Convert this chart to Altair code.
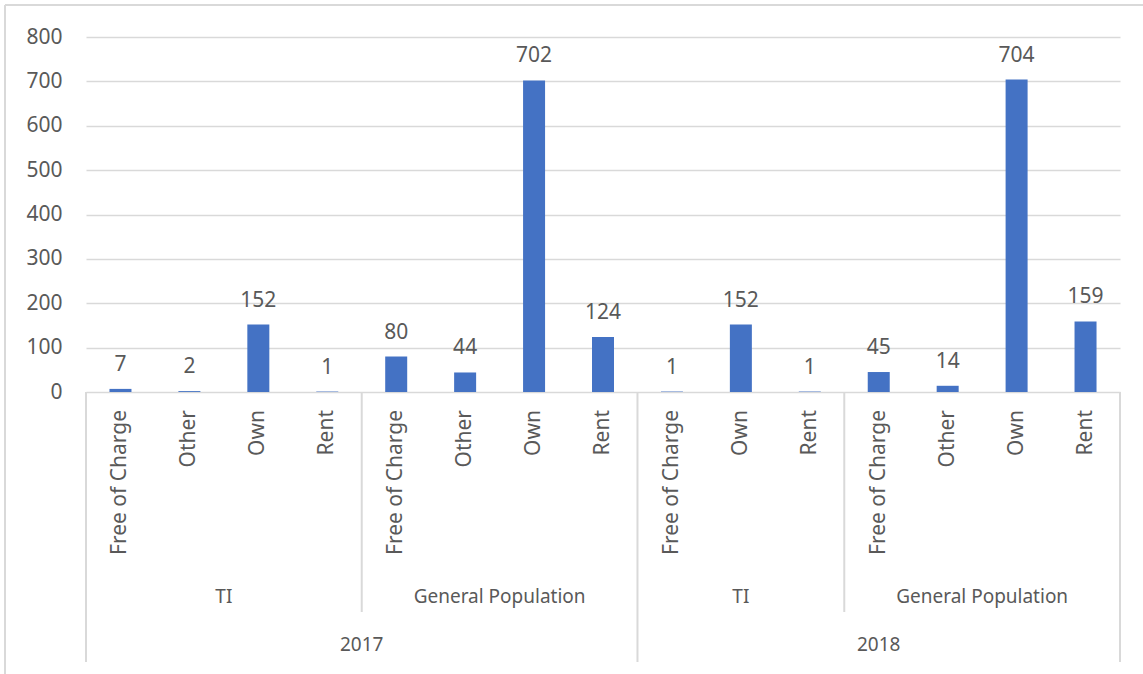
import altair as alt
import pandas as pd

# Category hierarchy (year > group > tenure) and counts
years = ["2017"] * 8 + ["2018"] * 7
groups = ["TI"] * 4 + ["General Population"] * 4 + ["TI"] * 3 + ["General Population"] * 4
tenure = [
    "Free of Charge", "Other", "Own", "Rent",
    "Free of Charge", "Other", "Own", "Rent",
    "Free of Charge", "Own", "Rent",
    "Free of Charge", "Other", "Own", "Rent",
]
counts = [7, 2, 152, 1, 80, 44, 702, 124, 1, 152, 1, 45, 14, 704, 159]
y_ticks = [0, 100, 200, 300, 400, 500, 600, 700, 800]

W, H = 1034, 355
GRID = "#d9d9d9"
TEXT = "#595959"
BAR = "#4472C4"
FONT = "Noto Sans"

df = pd.DataFrame({"year": years, "group": groups, "tenure": tenure, "count": counts})
df["slot"] = range(len(df))
df["mid"] = df["slot"] + 0.5

# spans of each group and each year along the category axis
grp = (df.groupby(["year", "group"], sort=False)["slot"]
         .agg(["min", "max"]).reset_index())
grp["start"] = grp["min"]
grp["end"] = grp["max"] + 1
grp["mid"] = (grp["start"] + grp["end"]) / 2

yr = df.groupby("year", sort=False)["slot"].agg(["min", "max"]).reset_index()
yr["start"] = yr["min"]
yr["end"] = yr["max"] + 1
yr["mid"] = (yr["start"] + yr["end"]) / 2

year_edges = sorted(set(yr["start"]).union(yr["end"]))
group_edges = sorted(set(grp["start"]).union(grp["end"]) - set(year_edges))

xscale = alt.Scale(domain=[0, len(df)], nice=False, zero=False, padding=0)
yscale = alt.Scale(domain=[0, 800], nice=False)


def xpos(field):
    return alt.X(field, type="quantitative", scale=xscale, axis=None)


base = alt.Chart(df)

bars = base.mark_bar(color=BAR, width=22).encode(
    x=xpos("mid"),
    y=alt.Y(
        "count:Q",
        scale=yscale,
        axis=alt.Axis(
            values=y_ticks, title=None, domain=False, ticks=False,
            grid=True, gridColor=GRID, gridWidth=1.5,
            labelColor=TEXT, labelFont=FONT, labelFontSize=21, labelPadding=24,
        ),
    ),
)

value_labels = base.mark_text(
    baseline="alphabetic", dy=-18, font=FONT, fontSize=21, color=TEXT
).encode(
    x=xpos("mid"),
    y=alt.Y("count:Q", scale=yscale),
    text=alt.Text("count:Q"),
)

tenure_labels = base.mark_text(
    angle=270, align="right", baseline="middle", font=FONT, fontSize=21, color=TEXT
).encode(
    x=xpos("mid"),
    y=alt.value(H + 18),
    text="tenure:N",
)

group_labels = alt.Chart(grp).mark_text(
    baseline="middle", font=FONT, fontSize=19, color=TEXT
).encode(
    x=xpos("mid"),
    y=alt.value(H + 205),
    text="group:N",
)

year_labels = alt.Chart(yr).mark_text(
    baseline="middle", font=FONT, fontSize=19, color=TEXT
).encode(
    x=xpos("mid"),
    y=alt.value(H + 253),
    text="year:N",
)

# separators below the axis: long ones between years, short ones between groups
year_lines = alt.Chart(pd.DataFrame({"edge": year_edges})).mark_rule(
    color=GRID, strokeWidth=2
).encode(
    x=xpos("edge"),
    y=alt.value(H),
    y2=alt.value(H + 270),
)

group_lines = alt.Chart(pd.DataFrame({"edge": group_edges})).mark_rule(
    color=GRID, strokeWidth=2
).encode(
    x=xpos("edge"),
    y=alt.value(H),
    y2=alt.value(H + 220),
)

# chart frame (top and left edges)
frame_top = alt.Chart(df.head(1)).mark_rule(color=GRID, strokeWidth=2).encode(
    x=alt.value(-81), x2=alt.value(W + 30), y=alt.value(-32)
)
frame_left = alt.Chart(df.head(1)).mark_rule(color=GRID, strokeWidth=2).encode(
    x=alt.value(-81), y=alt.value(-32), y2=alt.value(H + 300)
)

chart = (
    alt.layer(
        bars, value_labels, tenure_labels, group_labels, year_labels,
        year_lines, group_lines, frame_top, frame_left,
    )
    .properties(
        width=W,
        height=H,
        autosize=alt.AutoSizeParams(type="none"),
        padding={"left": 86, "top": 37, "right": 23, "bottom": 282},
        background="white",
    )
    .configure_view(strokeWidth=0, stroke="transparent")
)

chart.save("out.html", embed_options={"renderer": "svg", "actions": False})
